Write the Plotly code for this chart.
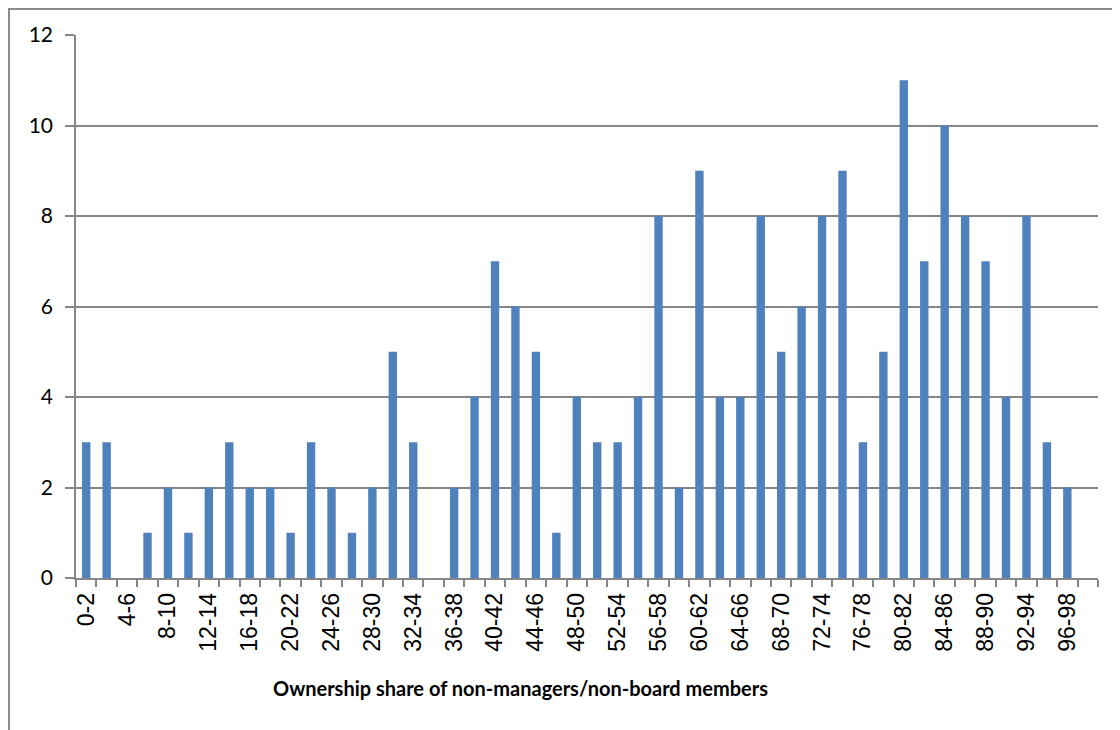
import plotly.graph_objects as go

categories = [f"{i}-{i+2}" for i in range(0, 100, 2)]
counts = [3, 3, 0, 1, 2, 1, 2, 3, 2, 2,
          1, 3, 2, 1, 2, 5, 3, 0, 2, 4,
          7, 6, 5, 1, 4, 3, 3, 4, 8, 2,
          9, 4, 4, 8, 5, 6, 8, 9, 3, 5,
          11, 7, 10, 8, 7, 4, 8, 3, 2, 0]
tick_labels = [c if i % 2 == 0 else "" for i, c in enumerate(categories)]
tick_labels[-1] = ""
x_title = "Ownership share of non-managers/non-board members"

grey = "#868686"
lato = "Lato, 'Open Sans', sans-serif"
arial = "'Liberation Sans', Arial, sans-serif"

fig = go.Figure(go.Bar(
    x=categories, y=counts,
    marker=dict(color="#4F81BD", line=dict(width=0)),
))

fig.update_layout(
    width=1112, height=722,
    margin=dict(l=68, r=22, t=27, b=152, autoexpand=False),
    paper_bgcolor="white", plot_bgcolor="white",
    bargap=0.59,
    showlegend=False,
    font=dict(family=lato, color="black"),
    shapes=[dict(type="rect", xref="paper", yref="paper",
                 x0=(1 - 68) / 1022, y0=-0.5, x1=1.2, y1=(570 - 1) / 543,
                 line=dict(color="#8c8c8c", width=2), layer="below")],
    annotations=[dict(text=f"<b>{x_title}</b>", xref="paper", yref="paper",
                      x=(512 - 68) / 1022, y=(570 - 680) / 543,
                      xanchor="center", yanchor="middle", showarrow=False,
                      font=dict(size=20, family=lato, color="black"))],
)

fig.update_xaxes(
    type="category",
    tickmode="array", tickvals=categories, ticktext=tick_labels,
    tickson="boundaries", ticks="outside", ticklen=7, tickcolor=grey, tickwidth=1.5,
    showline=True, linecolor=grey, linewidth=1.5,
    tickangle=-90, tickfont=dict(size=23, family=arial),
    ticklabelstandoff=4,
    showgrid=False,
)
fig.update_yaxes(
    range=[0, 12], dtick=2,
    ticks="outside", ticklen=9, tickcolor=grey, tickwidth=1.5,
    showline=True, linecolor=grey, linewidth=1.5,
    showgrid=True, gridcolor=grey, gridwidth=1.5,
    zeroline=False,
    tickfont=dict(size=21, family=lato),
    ticklabelstandoff=8,
)

fig.write_html("out.html")
